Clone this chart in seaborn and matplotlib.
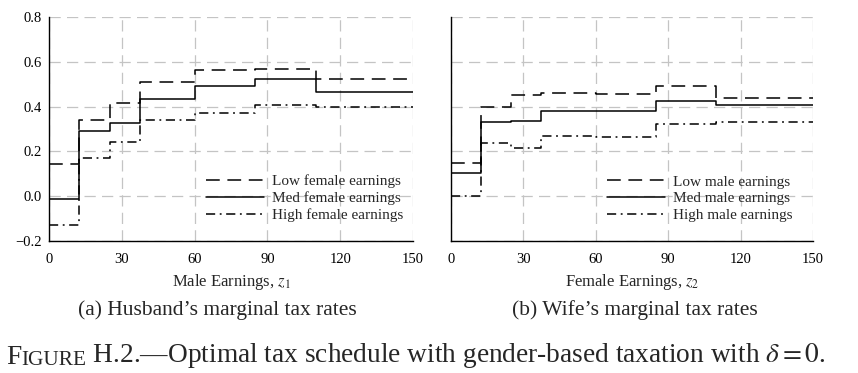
import seaborn as sns
import pandas as pd
import matplotlib.pyplot as plt

# step edges (earnings) shared by all schedules
edges = [0, 12.5, 25, 37.5, 60, 85, 110]
x_end = 150

husband_low = [0.142, 0.340, 0.415, 0.512, 0.565, 0.570, 0.522]
husband_med = [-0.012, 0.291, 0.328, 0.433, 0.492, 0.522, 0.467]
husband_high = [-0.127, 0.171, 0.241, 0.340, 0.373, 0.409, 0.397]

wife_low = [0.146, 0.400, 0.452, 0.460, 0.455, 0.494, 0.440]
wife_med = [0.104, 0.330, 0.336, 0.382, 0.382, 0.425, 0.407]
wife_high = [0.001, 0.238, 0.213, 0.270, 0.265, 0.321, 0.330]

husband_labels = ["Low female earnings", "Med female earnings", "High female earnings"]
wife_labels = ["Low male earnings", "Med male earnings", "High male earnings"]

x_ticks = [0, 30, 60, 90, 120, 150]
y_ticks = [-0.2, 0.0, 0.2, 0.4, 0.6, 0.8]

sns.set_style("white")
plt.rcParams['font.family'] = ['Liberation Serif', 'DejaVu Serif']
plt.rcParams['mathtext.fontset'] = 'stix'

styles = [(0, (9, 5)), '-', (0, (6, 3, 1.2, 3))]

fig = plt.figure(figsize=(8.58, 3.73), dpi=100)
ax1 = fig.add_axes([0.0571, 0.3539, 0.4242, 0.6005])
ax2 = fig.add_axes([0.5256, 0.3539, 0.4219, 0.6005])


def draw_panel(ax, series, labels, xlabel):
    for vals, lab, ls in zip(series, labels, styles):
        df = pd.DataFrame({"x": edges + [x_end], "y": vals + [vals[-1]]})
        sns.lineplot(data=df, x="x", y="y", ax=ax, color="black", lw=1.1,
                     drawstyle="steps-post", linestyle=ls, label=lab)
    ax.set_xlim(0, 150)
    ax.set_ylim(-0.2, 0.8)
    ax.set_xticks(x_ticks)
    ax.set_yticks(y_ticks)
    ax.grid(True, color="#c4c4c4", lw=0.9, linestyle=(0, (9, 5)))
    for s in ["top", "right"]:
        ax.spines[s].set_visible(False)
    for s in ["left", "bottom"]:
        ax.spines[s].set_color("black")
        ax.spines[s].set_linewidth(1.0)
    ax.tick_params(direction="in", length=3, labelsize=10.5, colors="black")
    ax.tick_params(axis="x", pad=9)
    ax.tick_params(axis="y", pad=5)
    ax.set_xlabel(xlabel, fontsize=12, labelpad=4)
    ax.set_ylabel("")
    ax.legend(loc="center left", bbox_to_anchor=(0.432, 0.19), frameon=False,
              fontsize=11, handlelength=3.8, handletextpad=0.5,
              labelspacing=0.2, borderpad=0, borderaxespad=0)


draw_panel(ax1, [husband_low, husband_med, husband_high], husband_labels,
           r"Male Earnings, $z_1$")
draw_panel(ax2, [wife_low, wife_med, wife_high], wife_labels,
           r"Female Earnings, $z_2$")
ax2.tick_params(labelleft=False)

fig.text(0.253, 0.1555, "(a) Husband\u2019s marginal tax rates", ha="center",
         va="baseline", fontsize=15.5)
fig.text(0.740, 0.1555, "(b) Wife\u2019s marginal tax rates", ha="center",
         va="baseline", fontsize=15.5)

# caption with small caps "FIGURE"
t1 = fig.text(0.007, 0.008, "F", fontsize=19.7, va="bottom")
t2 = ax1.annotate("IGURE", xy=(1, 0), xycoords=t1, fontsize=15.3, va="bottom",
                  annotation_clip=False)
ax1.annotate(" H.2.\u2014Optimal tax schedule with gender-based taxation with $\\delta = 0$.",
             xy=(1, 0), xycoords=t2, fontsize=19.7, va="bottom",
             annotation_clip=False)

plt.savefig("out.png", dpi=100)
